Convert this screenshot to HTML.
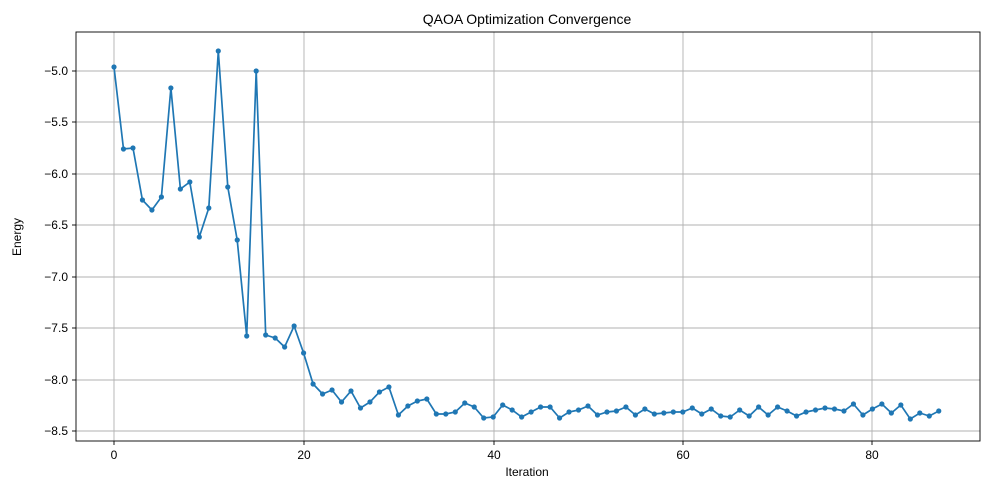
<!DOCTYPE html>
<html><head><style>body{margin:0;background:#fff}svg text{font-family:"Liberation Sans","DejaVu Sans",sans-serif;fill:#000}</style></head>
<body>
<svg width="989" height="490" viewBox="0 0 989 490" xmlns="http://www.w3.org/2000/svg">
<rect x="0" y="0" width="989" height="490" fill="#fff"/>
<g stroke="#b0b0b0" stroke-width="0.9">
<line x1="114" y1="32" x2="114" y2="441"/><line x1="304" y1="32" x2="304" y2="441"/><line x1="494" y1="32" x2="494" y2="441"/><line x1="683" y1="32" x2="683" y2="441"/><line x1="872" y1="32" x2="872" y2="441"/>
<line x1="76" y1="71" x2="980" y2="71"/><line x1="76" y1="122" x2="980" y2="122"/><line x1="76" y1="174" x2="980" y2="174"/><line x1="76" y1="225" x2="980" y2="225"/><line x1="76" y1="277" x2="980" y2="277"/><line x1="76" y1="328" x2="980" y2="328"/><line x1="76" y1="380" x2="980" y2="380"/><line x1="76" y1="431" x2="980" y2="431"/>
</g>
<rect x="76" y="32" width="904" height="409" fill="none" stroke="#000" stroke-width="0.9"/>
<g stroke="#000" stroke-width="0.9">
<line x1="114" y1="441" x2="114" y2="445"/><line x1="304" y1="441" x2="304" y2="445"/><line x1="494" y1="441" x2="494" y2="445"/><line x1="683" y1="441" x2="683" y2="445"/><line x1="872" y1="441" x2="872" y2="445"/>
<line x1="72" y1="71" x2="76" y2="71"/><line x1="72" y1="122" x2="76" y2="122"/><line x1="72" y1="174" x2="76" y2="174"/><line x1="72" y1="225" x2="76" y2="225"/><line x1="72" y1="277" x2="76" y2="277"/><line x1="72" y1="328" x2="76" y2="328"/><line x1="72" y1="380" x2="76" y2="380"/><line x1="72" y1="431" x2="76" y2="431"/>
</g>
<g font-size="12" text-anchor="middle">
<text x="114" y="459">0</text><text x="304" y="459">20</text><text x="494" y="459">40</text><text x="683" y="459">60</text><text x="872" y="459">80</text>
</g>
<g font-size="12" text-anchor="end">
<text x="68" y="75">−5.0</text><text x="68" y="126">−5.5</text><text x="68" y="178">−6.0</text><text x="68" y="229">−6.5</text><text x="68" y="281">−7.0</text><text x="68" y="332">−7.5</text><text x="68" y="384">−8.0</text><text x="68" y="435">−8.5</text>
</g>
<text x="527" y="476" font-size="12" text-anchor="middle">Iteration</text>
<text x="21" y="237" font-size="12" text-anchor="middle" transform="rotate(-90 21 237)">Energy</text>
<text x="527" y="24" font-size="14" text-anchor="middle">QAOA Optimization Convergence</text>
<g id="s"></g>
</svg>
<script>
var ys=[67,149,148,200,210,197,88,189,182,237,208,51,187,240,336,71,335,338,347,326,353,384,394,390,402,391,408,402,392,387,415,406,401,399,414,414,412,403,407,418,417,405,410,417,412,407,407,418,412,410,406,415,412,411,407,415,409,414,413,412,412,408,414,409,416,417,410,416,407,415,407,411,416,412,410,408,409,411,404,415,409,404,413,405,419,413,416,411];
var g=document.getElementById('s'),ns='http://www.w3.org/2000/svg',pts=[];
for(var i=0;i<ys.length;i++){var x=114+i*9.48;pts.push(x.toFixed(1)+','+ys[i]);var c=document.createElementNS(ns,'circle');c.setAttribute('cx',x);c.setAttribute('cy',ys[i]);c.setAttribute('r',2.6);c.setAttribute('fill','#1f77b4');g.appendChild(c);}
var p=document.createElementNS(ns,'polyline');p.setAttribute('points',pts.join(' '));p.setAttribute('fill','none');p.setAttribute('stroke','#1f77b4');p.setAttribute('stroke-width','1.7');g.insertBefore(p,g.firstChild);
</script>
</body></html>
